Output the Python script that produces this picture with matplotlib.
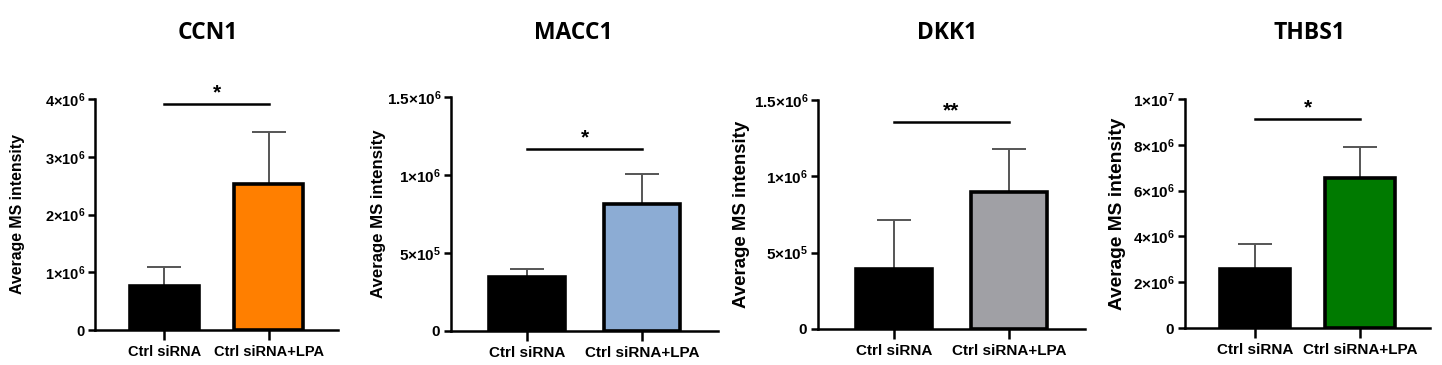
import matplotlib
matplotlib.use("Agg")
import matplotlib.pyplot as plt
from matplotlib.ticker import FixedLocator

plt.rcParams['font.family'] = ['Liberation Sans', 'DejaVu Sans']
plt.rcParams['mathtext.fontset'] = 'custom'
plt.rcParams['mathtext.rm'] = 'Liberation Sans:bold'
plt.rcParams['mathtext.bf'] = 'Liberation Sans:bold'

# ---- data ----
groups = ['Ctrl siRNA', 'Ctrl siRNA+LPA']
genes = ['CCN1', 'MACC1', 'DKK1', 'THBS1']
means = [[0.76e6, 2.53e6], [0.346e6, 0.814e6], [0.393e6, 0.897e6], [2.58e6, 6.55e6]]
errs = [[0.33e6, 0.90e6], [0.051e6, 0.192e6], [0.321e6, 0.282e6], [1.09e6, 1.35e6]]
colors = [['#000000', '#FF7F00'], ['#000000', '#8CACD4'],
          ['#000000', '#A0A0A5'], ['#000000', '#007A00']]
stars = ['*', '*', '**', '*']
sig_y = [3.92e6, 1.167e6, 1.356e6, 9.13e6]
yticks = [[0, 1e6, 2e6, 3e6, 4e6], [0, 5e5, 1e6, 1.5e6],
          [0, 5e5, 1e6, 1.5e6], [0, 2e6, 4e6, 6e6, 8e6, 1e7]]
ytick_labels = [['0', '1×10^6', '2×10^6', '3×10^6', '4×10^6'],
                ['0', '5×10^5', '1×10^6', '1.5×10^6'],
                ['0', '5×10^5', '1×10^6', '1.5×10^6'],
                ['0', '2×10^6', '4×10^6', '6×10^6', '8×10^6', '1×10^7']]

# axes placement in pixels: left, right, top(ymax), bottom(0)
W, H = 1442, 365
boxes = [(95, 338, 99, 330), (451, 718, 97, 331), (818, 1085, 100, 329), (1185, 1430, 99, 328)]
title_x = [208, 573, 947, 1310]
ylabel_x = [18, 378, 742, 1117]
ylabel_size = [11.4, 12.1, 13.4, 13.8]
tick_size = [10.5, 11, 11, 11]


def fmt(s):
    if s == '0':
        return r'$\mathbf{0}$'
    base, exp = s.split('^')
    return r'$\mathbf{' + base.replace('×', r'{\times}') + '^{' + exp + '}}$'


fig = plt.figure(figsize=(W / 100, H / 100), dpi=100)

for i in range(4):
    l, r, t, b = boxes[i]
    ax = fig.add_axes([l / W, 1 - b / H, (r - l) / W, (b - t) / H])
    x = [0, 1]
    ax.bar(x, means[i], width=0.66, color=colors[i],
           edgecolor='black', linewidth=2.6, zorder=2)
    ax.errorbar(x, means[i], yerr=[[0, 0], errs[i]], fmt='none',
                ecolor='#555555', elinewidth=1.4, capsize=12.5,
                capthick=1.4, zorder=1)
    ax.set_xlim(-0.66, 1.66)
    ax.set_ylim(0, yticks[i][-1])
    ax.yaxis.set_major_locator(FixedLocator(yticks[i]))
    ax.set_yticklabels([fmt(s) for s in ytick_labels[i]], fontsize=tick_size[i])
    ax.set_xticks(x)
    ax.set_xticklabels(groups, fontweight='bold', fontsize=tick_size[i])
    ax.spines['top'].set_visible(False)
    ax.spines['right'].set_visible(False)
    ax.spines['left'].set_linewidth(1.8)
    ax.spines['bottom'].set_linewidth(1.8)
    ax.tick_params(axis='y', length=5, width=1.8, pad=2)
    ax.tick_params(axis='x', length=7, width=1.8, pad=4)
    ax.set_ylabel('Average MS intensity', fontsize=ylabel_size[i], fontweight='bold',
                  va='center')
    ax.yaxis.set_label_coords((ylabel_x[i] - l) / (r - l), 0.5)

    # significance bar
    ax.plot(x, [sig_y[i], sig_y[i]], color='black', linewidth=1.8, clip_on=False)
    ax.annotate(stars[i], xy=(0.5, sig_y[i]), xytext=(0, 1), textcoords='offset points',
                ha='center', va='bottom', fontsize=15, fontweight='bold',
                annotation_clip=False)

    fig.text(title_x[i] / W, 1 - 33 / H, genes[i], ha='center', va='center',
             fontsize=16.5, fontweight='bold', family=['Open Sans', 'DejaVu Sans'])

fig.savefig('out.png', dpi=100)
